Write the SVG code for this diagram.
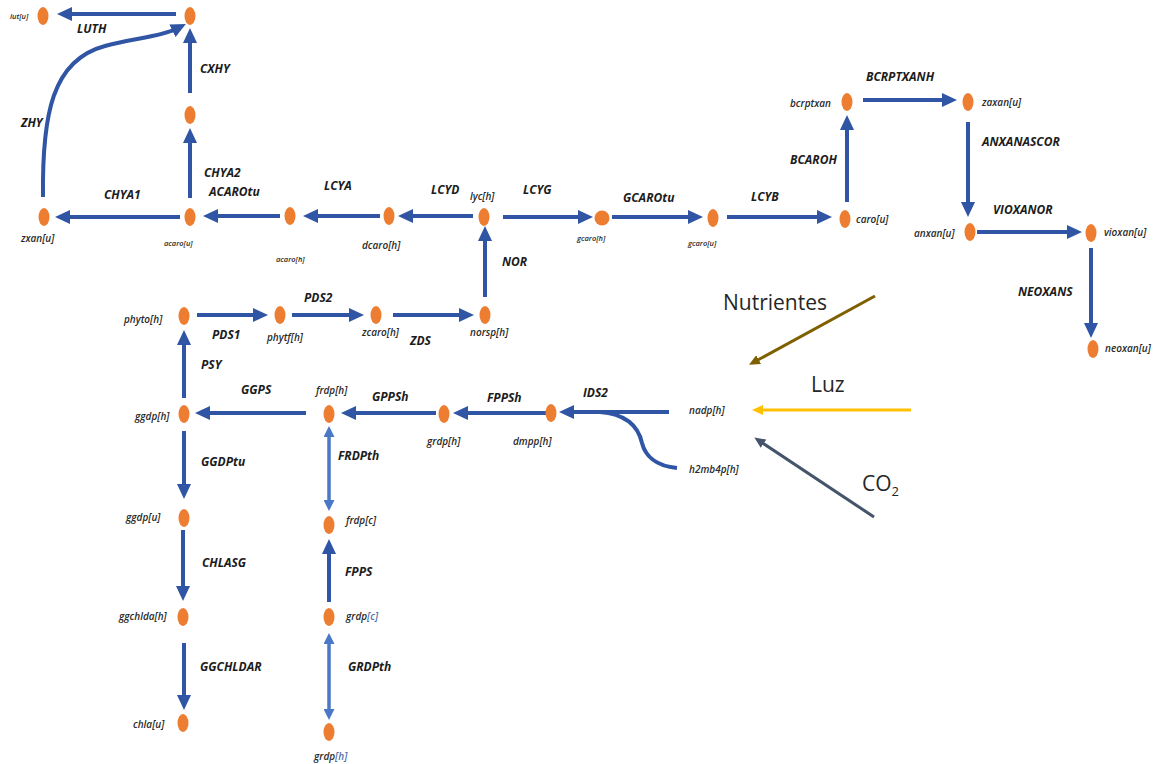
<svg xmlns="http://www.w3.org/2000/svg" width="1158" height="764" viewBox="0 0 1158 764">
  <defs>
    <style>
      .bg { fill: #ffffff; }
      .node { fill: #ED7D31; }
      .flux { fill: none; stroke: #2F55A4; stroke-width: 4; marker-end: url(#head); }
      .flux-plain { fill: none; stroke: #2F55A4; stroke-width: 4; }
      .transport { fill: none; stroke: #4A78C6; stroke-width: 3.5; marker-start: url(#headLight); marker-end: url(#headLight); }
      .rx { font-family: "Open Sans", "Liberation Sans", sans-serif; font-weight: 700; font-style: italic; font-size: 12px; fill: #1c1c1c; }
      .met { font-family: "Open Sans", "Liberation Sans", sans-serif; font-weight: 600; font-style: italic; font-size: 10px; fill: #2a2a2a; }
      .met-s { font-size: 7.5px; }
      .comp { fill: #4F70AA; }
      .env { font-family: "Open Sans", "Liberation Sans", sans-serif; font-size: 21px; fill: #262626; }
      .nut { fill: none; stroke: #7F6000; stroke-width: 3; marker-end: url(#headNut); }
      .luz { fill: none; stroke: #FFC000; stroke-width: 3; marker-end: url(#headLuz); }
      .co2 { fill: none; stroke: #44546A; stroke-width: 3; marker-end: url(#headCo2); }
    </style>
    <marker id="head" viewBox="0 0 15 14" refX="4" refY="7" markerWidth="15" markerHeight="14" markerUnits="userSpaceOnUse" orient="auto">
      <path d="M0,0 L15,7 L0,14 z" fill="#2F55A4"/>
    </marker>
    <marker id="headLight" viewBox="0 0 11 11" refX="3" refY="5.5" markerWidth="11" markerHeight="11" markerUnits="userSpaceOnUse" orient="auto-start-reverse">
      <path d="M0,0 L11,5.5 L0,11 z" fill="#4A78C6"/>
    </marker>
    <marker id="headNut" viewBox="0 0 11 10" refX="3" refY="5" markerWidth="11" markerHeight="10" markerUnits="userSpaceOnUse" orient="auto">
      <path d="M0,0 L11,5 L0,10 z" fill="#7F6000"/>
    </marker>
    <marker id="headLuz" viewBox="0 0 11 10" refX="3" refY="5" markerWidth="11" markerHeight="10" markerUnits="userSpaceOnUse" orient="auto">
      <path d="M0,0 L11,5 L0,10 z" fill="#FFC000"/>
    </marker>
    <marker id="headCo2" viewBox="0 0 11 10" refX="3" refY="5" markerWidth="11" markerHeight="10" markerUnits="userSpaceOnUse" orient="auto">
      <path d="M0,0 L11,5 L0,10 z" fill="#44546A"/>
    </marker>
  </defs>

  <rect class="bg" x="0" y="0" width="1158" height="764"/>

  <!-- reactions -->
  <g id="connectors">
    <line class="flux" x1="176" y1="14" x2="68" y2="14"/>
    <path class="flux" d="M43,197 C42,115 52,60 105,46 C133,38 160,37 176,29"/>
    <line class="flux" x1="190" y1="93" x2="190" y2="39"/>
    <line class="flux" x1="190" y1="198" x2="190" y2="139"/>
    <line class="flux" x1="180" y1="217" x2="66" y2="217"/>
    <line class="flux" x1="280" y1="216" x2="214" y2="216"/>
    <line class="flux" x1="380" y1="216" x2="314" y2="216"/>
    <line class="flux" x1="473" y1="216" x2="409" y2="216"/>
    <line class="flux" x1="503" y1="217" x2="582" y2="217"/>
    <line class="flux" x1="612" y1="217" x2="692" y2="217"/>
    <line class="flux" x1="727" y1="217" x2="821" y2="217"/>
    <line class="flux" x1="847" y1="202" x2="847" y2="126"/>
    <line class="flux" x1="863" y1="100" x2="946" y2="100"/>
    <line class="flux" x1="968" y1="122" x2="968" y2="206"/>
    <line class="flux" x1="977" y1="232" x2="1071" y2="232"/>
    <line class="flux" x1="1091" y1="248" x2="1091" y2="327"/>
    <line class="flux" x1="485" y1="297" x2="485" y2="237"/>
    <line class="flux" x1="197" y1="315" x2="257" y2="315"/>
    <line class="flux" x1="292" y1="315" x2="353" y2="315"/>
    <line class="flux" x1="393" y1="315" x2="463" y2="315"/>
    <line class="flux" x1="184" y1="398" x2="184" y2="341"/>
    <line class="flux" x1="306" y1="413" x2="206" y2="413"/>
    <line class="flux" x1="436" y1="413" x2="352" y2="413"/>
    <line class="flux" x1="547" y1="413" x2="464" y2="413"/>
    <line class="flux" x1="669" y1="412" x2="570" y2="412"/>
    <path class="flux-plain" d="M677,468 C655,466 645,455 642,443 C638,425 625,414 600,412"/>
    <line class="flux" x1="184" y1="431" x2="184" y2="488"/>
    <line class="flux" x1="183" y1="530" x2="183" y2="590"/>
    <line class="flux" x1="184" y1="643" x2="184" y2="699"/>
    <line class="flux" x1="329" y1="602" x2="329" y2="550"/>
    <line class="transport" x1="329" y1="434" x2="329" y2="503"/>
    <line class="transport" x1="329" y1="641" x2="329" y2="712"/>

    <!-- outside inputs -->
    <line class="nut" x1="875" y1="296" x2="756" y2="361"/>
    <line class="luz" x1="911" y1="410" x2="760" y2="410"/>
    <line class="co2" x1="874" y1="517" x2="761" y2="442"/>
  </g>

  <!-- reaction names -->
  <g id="reaction-labels">
    <text class="rx" x="77" y="33">LUTH</text>
    <text class="rx" x="21" y="127">ZHY</text>
    <text class="rx" x="200" y="73">CXHY</text>
    <text class="rx" x="204" y="177">CHYA2</text>
    <text class="rx" x="209" y="196">ACAROtu</text>
    <text class="rx" x="104" y="199">CHYA1</text>
    <text class="rx" x="324" y="190">LCYA</text>
    <text class="rx" x="431" y="194">LCYD</text>
    <text class="rx" x="523" y="194">LCYG</text>
    <text class="rx" x="623" y="202">GCAROtu</text>
    <text class="rx" x="751" y="201">LCYB</text>
    <text class="rx" x="790" y="164">BCAROH</text>
    <text class="rx" x="866" y="81">BCRPTXANH</text>
    <text class="rx" x="982" y="146">ANXANASCOR</text>
    <text class="rx" x="993" y="214">VIOXANOR</text>
    <text class="rx" x="1018" y="296">NEOXANS</text>
    <text class="rx" x="502" y="266">NOR</text>
    <text class="rx" x="212" y="339">PDS1</text>
    <text class="rx" x="304" y="302">PDS2</text>
    <text class="rx" x="410" y="345">ZDS</text>
    <text class="rx" x="201" y="369">PSY</text>
    <text class="rx" x="241" y="394">GGPS</text>
    <text class="rx" x="372" y="401">GPPSh</text>
    <text class="rx" x="487" y="402">FPPSh</text>
    <text class="rx" x="583" y="397">IDS2</text>
    <text class="rx" x="201" y="466">GGDPtu</text>
    <text class="rx" x="202" y="567">CHLASG</text>
    <text class="rx" x="200" y="671">GGCHLDAR</text>
    <text class="rx" x="338" y="460">FRDPth</text>
    <text class="rx" x="345" y="576">FPPS</text>
    <text class="rx" x="348" y="671">GRDPth</text>
  </g>

  <!-- metabolites -->
  <g id="lut_u"><ellipse class="node" cx="43" cy="16" rx="5.5" ry="9"/><text class="met met-s" x="10" y="19">lut[u]</text></g>
  <g id="cxhy_top"><ellipse class="node" cx="190" cy="16" rx="5.5" ry="9"/></g>
  <g id="chya2_mid"><ellipse class="node" cx="190" cy="115" rx="5.5" ry="9"/></g>
  <g id="acaro_u"><ellipse class="node" cx="190" cy="217" rx="5.5" ry="9"/><text class="met met-s" x="164" y="246">acaro[u]</text></g>
  <g id="zxan_u"><ellipse class="node" cx="44" cy="217" rx="5.5" ry="9"/><text class="met" x="21" y="242">zxan[u]</text></g>
  <g id="acaro_h"><ellipse class="node" cx="290" cy="216" rx="5.5" ry="9"/><text class="met met-s" x="276" y="262">acaro[h]</text></g>
  <g id="dcaro_h"><ellipse class="node" cx="389" cy="216" rx="5.5" ry="9"/><text class="met" x="362" y="249">dcaro[h]</text></g>
  <g id="lyc_h"><ellipse class="node" cx="484" cy="217" rx="5.5" ry="9"/><text class="met" x="470" y="200">lyc[h]</text></g>
  <g id="gcaro_h"><circle class="node" cx="602" cy="218" r="7.5"/><text class="met met-s" x="577" y="241">gcaro[h]</text></g>
  <g id="gcaro_u"><ellipse class="node" cx="713" cy="218" rx="5.5" ry="9"/><text class="met met-s" x="688" y="246">gcaro[u]</text></g>
  <g id="caro_u"><ellipse class="node" cx="845" cy="219" rx="5.5" ry="9"/><text class="met" x="856" y="223">caro[u]</text></g>
  <g id="bcrptxan"><ellipse class="node" cx="847" cy="102" rx="5.5" ry="9"/><text class="met" x="790" y="107">bcrptxan</text></g>
  <g id="zaxan_u"><ellipse class="node" cx="968" cy="102" rx="5.5" ry="9"/><text class="met" x="982" y="106">zaxan[u]</text></g>
  <g id="anxan_u"><ellipse class="node" cx="970" cy="232" rx="5.5" ry="9"/><text class="met" x="914" y="237">anxan[u]</text></g>
  <g id="vioxan_u"><ellipse class="node" cx="1091" cy="233" rx="5.5" ry="9"/><text class="met" x="1104" y="236">vioxan[u]</text></g>
  <g id="neoxan_u"><ellipse class="node" cx="1093" cy="349" rx="5.5" ry="9"/><text class="met" x="1105" y="352">neoxan[u]</text></g>
  <g id="phyto_h"><ellipse class="node" cx="184" cy="316" rx="5.5" ry="9"/><text class="met" x="124" y="323">phyto[h]</text></g>
  <g id="phytf_h"><ellipse class="node" cx="280" cy="315" rx="5.5" ry="9"/><text class="met" x="267" y="341">phytf[h]</text></g>
  <g id="zcaro_h"><ellipse class="node" cx="376" cy="315" rx="5.5" ry="9"/><text class="met" x="362" y="336">zcaro[h]</text></g>
  <g id="norsp_h"><ellipse class="node" cx="485" cy="315" rx="5.5" ry="9"/><text class="met" x="470" y="336">norsp[h]</text></g>
  <g id="ggdp_h"><ellipse class="node" cx="184" cy="414" rx="5.5" ry="9"/><text class="met" x="135" y="420">ggdp[h]</text></g>
  <g id="frdp_h"><ellipse class="node" cx="329" cy="414" rx="5.5" ry="9"/><text class="met" x="316" y="394">frdp[h]</text></g>
  <g id="grdp_h"><ellipse class="node" cx="444" cy="414" rx="5.5" ry="9"/><text class="met" x="427" y="445">grdp[h]</text></g>
  <g id="dmpp_h"><ellipse class="node" cx="551" cy="413" rx="5.5" ry="9"/><text class="met" x="513" y="445">dmpp[h]</text></g>
  <g id="nadp_h"><text class="met" x="689" y="414">nadp[h]</text></g>
  <g id="h2mb4p_h"><text class="met" x="689" y="473">h2mb4p[h]</text></g>
  <g id="ggdp_u"><ellipse class="node" cx="184" cy="518" rx="5.5" ry="9"/><text class="met" x="126" y="521">ggdp[u]</text></g>
  <g id="frdp_c"><ellipse class="node" cx="329" cy="525" rx="5.5" ry="9"/><text class="met" x="346" y="524">frdp[c]</text></g>
  <g id="ggchlda_h"><ellipse class="node" cx="183" cy="617" rx="5.5" ry="9"/><text class="met" x="119" y="620">ggchlda[h]</text></g>
  <g id="grdp_c"><ellipse class="node" cx="329" cy="617" rx="5.5" ry="9"/><text class="met" x="346" y="620">grdp<tspan class="comp">[c]</tspan></text></g>
  <g id="chla_u"><ellipse class="node" cx="183" cy="723" rx="5.5" ry="9"/><text class="met" x="133" y="728">chla[u]</text></g>
  <g id="grdp_h_lower"><ellipse class="node" cx="329" cy="732" rx="5.5" ry="9"/><text class="met" x="314" y="760">grdp<tspan class="comp">[h]</tspan></text></g>

  <!-- outside inputs -->
  <g id="nutrientes"><text class="env" x="723" y="310">Nutrientes</text></g>
  <g id="luz"><text class="env" x="811" y="392">Luz</text></g>
  <g id="co2"><text class="env" x="862" y="491">CO<tspan font-size="13" dy="5">2</tspan></text></g>
</svg>
